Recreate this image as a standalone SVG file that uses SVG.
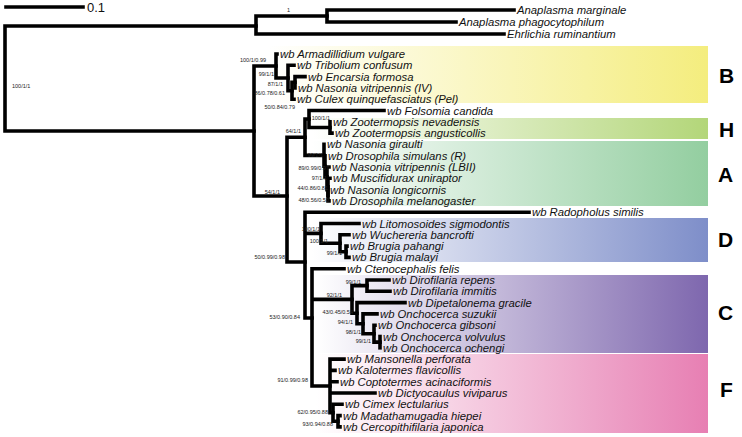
<svg xmlns="http://www.w3.org/2000/svg" width="742" height="437" viewBox="0 0 742 437">
<defs>
<linearGradient id="gB" x1="0" x2="1" y1="0" y2="0"><stop offset="0" stop-color="#ffffff"/><stop offset="1" stop-color="#f4ed7e"/></linearGradient>
<linearGradient id="gH" x1="0" x2="1" y1="0" y2="0"><stop offset="0" stop-color="#ffffff"/><stop offset="1" stop-color="#b3d679"/></linearGradient>
<linearGradient id="gA" x1="0" x2="1" y1="0" y2="0"><stop offset="0" stop-color="#ffffff"/><stop offset="1" stop-color="#93cea0"/></linearGradient>
<linearGradient id="gD" x1="0" x2="1" y1="0" y2="0"><stop offset="0" stop-color="#ffffff"/><stop offset="1" stop-color="#7e8ec9"/></linearGradient>
<linearGradient id="gC" x1="0" x2="1" y1="0" y2="0"><stop offset="0" stop-color="#ffffff"/><stop offset="1" stop-color="#7e67ae"/></linearGradient>
<linearGradient id="gF" x1="0" x2="1" y1="0" y2="0"><stop offset="0" stop-color="#ffffff"/><stop offset="1" stop-color="#e77fb3"/></linearGradient>
</defs>
<style>
.tip{font-family:"Liberation Sans",Arial,sans-serif;font-style:italic;font-size:11.3px;fill:#111}
.sup{font-family:"Liberation Sans",Arial,sans-serif;font-size:5.5px;fill:#222;text-anchor:end}
.clade{font-family:"Liberation Sans",Arial,sans-serif;font-weight:bold;font-size:21px;fill:#000}
.br{fill:none;stroke:#000;stroke-width:3.6;stroke-linecap:square;stroke-linejoin:miter}
.scale{font-family:"Liberation Sans",Arial,sans-serif;font-size:13px;fill:#111}
</style>
<rect width="742" height="437" fill="#fff"/>
<g id="bands">
<g id="band-B"><rect x="268" y="46" width="440" height="57" fill="url(#gB)"/><text class="clade" x="719" y="83">B</text></g>
<g id="band-H"><rect x="312" y="118" width="396" height="21" fill="url(#gH)"/><text class="clade" x="719" y="137">H</text></g>
<g id="band-A"><rect x="312" y="141" width="396" height="65" fill="url(#gA)"/><text class="clade" x="718" y="182">A</text></g>
<g id="band-D"><rect x="312" y="218" width="396" height="44" fill="url(#gD)"/><text class="clade" x="718" y="247">D</text></g>
<g id="band-C"><rect x="316" y="275" width="392" height="78" fill="url(#gC)"/><text class="clade" x="718" y="320">C</text></g>
<g id="band-F"><rect x="316" y="354" width="392" height="79" fill="url(#gF)"/><text class="clade" x="720" y="397">F</text></g>
</g>
<g id="scalebar"><path class="br" d="M6 7 H83"/><text class="scale" x="87" y="12">0.1</text></g>
<g id="connectors">
<path class="br" d="M5 26 V131 M5 26 H256 M5 131 H254"/>
<path class="br" d="M256 16 V34 M256 16 H327 M256 34 H504"/>
<path class="br" d="M327 10 V22 M327 10 H514 M327 22 H456"/>
<path class="br" d="M254 66 V196 M254 66 H276 M254 196 H287"/>
<path class="br" d="M276 54 V78 M276 54 H277 M276 78 H288"/>
<path class="br" d="M288 65.3 V90.7 M288 65.3 H294 M288 90.7 H292"/>
<path class="br" d="M292 82.25 V99.2 M292 82.25 H295 M292 99.2 H294"/>
<path class="br" d="M295 76.6 V87.9 M295 76.6 H305 M295 87.9 H295"/>
<path class="br" d="M287 137.2 V262 M287 137.2 H305 M287 262 H305"/>
<path class="br" d="M305 119 V155.35 M305 119 H309 M305 155.35 H324"/>
<path class="br" d="M309 110.5 V127.45 M309 110.5 H384 M309 127.45 H330"/>
<path class="br" d="M330 121.8 V133.1 M330 121.8 H330 M330 133.1 H332"/>
<path class="br" d="M324 144.4 V166.3 M324 144.4 H324 M324 166.3 H325"/>
<path class="br" d="M325 155.7 V176.9 M325 155.7 H325 M325 176.9 H327"/>
<path class="br" d="M327 167 V186.8 M327 167 H329 M327 186.8 H328"/>
<path class="br" d="M328 178.3 V195.25 M328 178.3 H330 M328 195.25 H328"/>
<path class="br" d="M328 189.6 V200.9 M328 189.6 H327 M328 200.9 H329"/>
<path class="br" d="M305 212.2 V318 M305 212.2 H529 M305 233.4 H321 M305 318 H312"/>
<path class="br" d="M321 223.5 V243.3 M321 223.5 H359 M321 243.3 H340"/>
<path class="br" d="M340 234.8 V251.75 M340 234.8 H349 M340 251.75 H346"/>
<path class="br" d="M346 246.1 V257.4 M346 246.1 H347 M346 257.4 H349"/>
<path class="br" d="M312 268.7 V386 M312 268.7 H344 M312 299.4 H352 M312 386 H330"/>
<path class="br" d="M352 285.65 V313.2 M352 285.65 H367 M352 313.2 H357"/>
<path class="br" d="M367 280 V291.3 M367 280 H389 M367 291.3 H390"/>
<path class="br" d="M357 302.6 V323.8 M357 302.6 H405 M357 323.8 H363"/>
<path class="br" d="M363 313.9 V333.7 M363 313.9 H377 M363 333.7 H374"/>
<path class="br" d="M374 325.2 V342.15 M374 325.2 H375 M374 342.15 H380"/>
<path class="br" d="M380 336.5 V347.8"/>
<path class="br" d="M330 359.1 V412.8 M330 359.1 H344 M330 370.4 H335 M330 381.7 H337 M330 393 H375 M330 412.8 H333"/>
<path class="br" d="M333 404.3 V421.25 M333 404.3 H342 M333 421.25 H338"/>
<path class="br" d="M338 415.6 V426.9 M338 415.6 H340 M338 426.9 H340"/>
</g>
<g id="tips">
<g id="t-marg"><text class="tip" x="517" y="14">Anaplasma marginale</text></g>
<g id="t-phago"><text class="tip" x="459" y="26">Anaplasma phagocytophilum</text></g>
<g id="t-ehrl"><text class="tip" x="507" y="38">Ehrlichia ruminantium</text></g>
<g id="t-armad"><text class="tip" x="280" y="58">wb Armadillidium vulgare</text></g>
<g id="t-trib"><text class="tip" x="297" y="69.3">wb Tribolium confusum</text></g>
<g id="t-encar"><text class="tip" x="308" y="80.6">wb Encarsia formosa</text></g>
<g id="t-nasIV"><text class="tip" x="298" y="91.9">wb Nasonia vitripennis (IV)</text></g>
<g id="t-culex"><text class="tip" x="297" y="103.2">wb Culex quinquefasciatus (Pel)</text></g>
<g id="t-fols"><text class="tip" x="387" y="114.5">wb Folsomia candida</text></g>
<g id="t-znev"><text class="tip" x="333" y="125.8">wb Zootermopsis nevadensis</text></g>
<g id="t-zang"><text class="tip" x="335" y="137.1">wb Zootermopsis angusticollis</text></g>
<g id="t-ngir"><text class="tip" x="327" y="148.4">wb Nasonia giraulti</text></g>
<g id="t-dsim"><text class="tip" x="328" y="159.7">wb Drosophila simulans (R)</text></g>
<g id="t-nlbii"><text class="tip" x="332" y="171">wb Nasonia vitripennis (LBII)</text></g>
<g id="t-musc"><text class="tip" x="333" y="182.3">wb Muscifidurax uniraptor</text></g>
<g id="t-nlong"><text class="tip" x="330" y="193.6">wb Nasonia longicornis</text></g>
<g id="t-dmel"><text class="tip" x="332" y="204.9">wb Drosophila melanogaster</text></g>
<g id="t-rado"><text class="tip" x="532" y="216.2">wb Radopholus similis</text></g>
<g id="t-lito"><text class="tip" x="362" y="227.5">wb Litomosoides sigmodontis</text></g>
<g id="t-wuch"><text class="tip" x="352" y="238.8">wb Wuchereria bancrofti</text></g>
<g id="t-bpah"><text class="tip" x="350" y="250.1">wb Brugia pahangi</text></g>
<g id="t-bmal"><text class="tip" x="352" y="261.4">wb Brugia malayi</text></g>
<g id="t-cten"><text class="tip" x="347" y="272.7">wb Ctenocephalis felis</text></g>
<g id="t-drep"><text class="tip" x="392" y="284">wb Dirofilaria repens</text></g>
<g id="t-dimm"><text class="tip" x="393" y="295.3">wb Dirofilaria immitis</text></g>
<g id="t-dipe"><text class="tip" x="408" y="306.6">wb Dipetalonema gracile</text></g>
<g id="t-osuz"><text class="tip" x="380" y="317.9">wb Onchocerca suzukii</text></g>
<g id="t-ogib"><text class="tip" x="378" y="329.2">wb Onchocerca gibsoni</text></g>
<g id="t-ovol"><text class="tip" x="383" y="340.5">wb Onchocerca volvulus</text></g>
<g id="t-ooch"><text class="tip" x="383" y="351.8">wb Onchocerca ochengi</text></g>
<g id="t-mans"><text class="tip" x="347" y="363.1">wb Mansonella perforata</text></g>
<g id="t-kalo"><text class="tip" x="338" y="374.4">wb Kalotermes flavicollis</text></g>
<g id="t-copt"><text class="tip" x="340" y="385.7">wb Coptotermes acinaciformis</text></g>
<g id="t-dict"><text class="tip" x="378" y="397">wb Dictyocaulus viviparus</text></g>
<g id="t-cime"><text class="tip" x="345" y="408.3">wb Cimex lectularius</text></g>
<g id="t-mada"><text class="tip" x="343" y="419.6">wb Madathamugadia hiepei</text></g>
<g id="t-cerc"><text class="tip" x="343" y="430.9">wb Cercopithifilaria japonica</text></g>
</g>
<g id="supports">
<text class="sup" x="12" y="88" style="text-anchor:start">100/1/1</text>
<text class="sup" x="287" y="12" style="text-anchor:start">1</text>
<text class="sup" x="266" y="62">100/1/0.99</text>
<text class="sup" x="274" y="76">99/1/1</text>
<text class="sup" x="283" y="86">87/1/1</text>
<text class="sup" x="285" y="95">86/0.78/0.61</text>
<text class="sup" x="295" y="109">50/0.84/0.79</text>
<text class="sup" x="330" y="120">100/1/1</text>
<text class="sup" x="301" y="133">64/1/1</text>
<text class="sup" x="323" y="157">99/1/1</text>
<text class="sup" x="329" y="170">89/0.99/0.97</text>
<text class="sup" x="327" y="180">97/1/1</text>
<text class="sup" x="328" y="190">44/0.86/0.81</text>
<text class="sup" x="329" y="202">48/0.56/0.50</text>
<text class="sup" x="280" y="194">54/1/1</text>
<text class="sup" x="320" y="231">100/1/1</text>
<text class="sup" x="328" y="243">100/1/1</text>
<text class="sup" x="342" y="255">99/1/1</text>
<text class="sup" x="285" y="259">50/0.99/0.98</text>
<text class="sup" x="300" y="319">53/0.90/0.84</text>
<text class="sup" x="361" y="284">99/1/1</text>
<text class="sup" x="342" y="297">92/1/1</text>
<text class="sup" x="353" y="314">43/0.45/0.54</text>
<text class="sup" x="353" y="324">94/1/1</text>
<text class="sup" x="361" y="334">98/1/1</text>
<text class="sup" x="371" y="343">99/1/1</text>
<text class="sup" x="308" y="382">91/0.99/0.98</text>
<text class="sup" x="328" y="414">62/0.95/0.88</text>
<text class="sup" x="333" y="426">93/0.94/0.88</text>
</g>
</svg>
